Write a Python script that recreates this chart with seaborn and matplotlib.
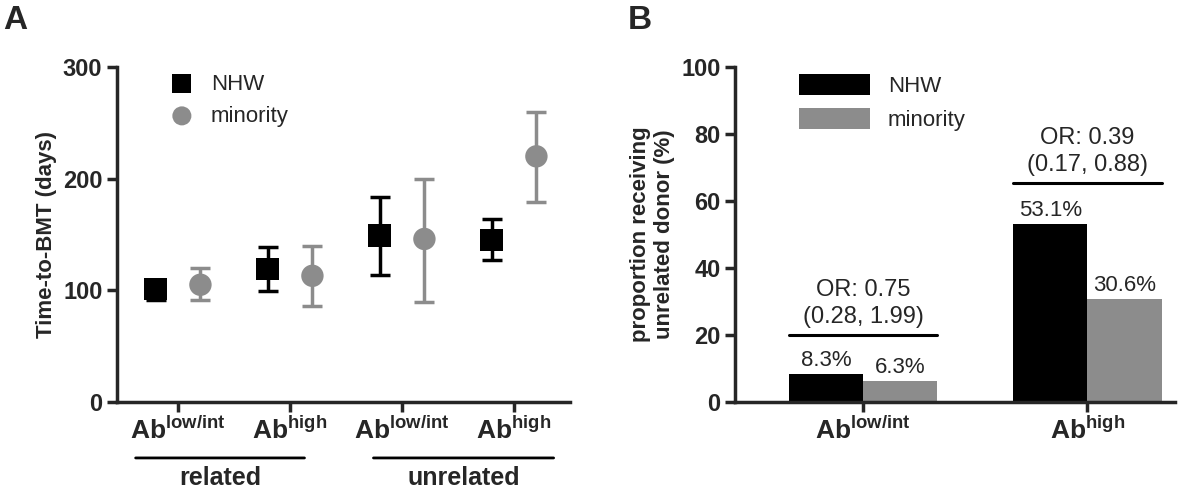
import numpy as np
import pandas as pd
import seaborn as sns
import matplotlib.pyplot as plt

sns.set_style('ticks')
plt.rcParams['font.family'] = ['Liberation Sans', 'DejaVu Sans']
plt.rcParams['mathtext.fontset'] = 'custom'
plt.rcParams['mathtext.bf'] = 'Liberation Sans:bold'
plt.rcParams['mathtext.rm'] = 'Liberation Sans'

groups = ['related low', 'related high', 'unrelated low', 'unrelated high']
tick_labels = [r'$\mathbf{Ab^{low/int}}$', r'$\mathbf{Ab^{high}}$'] * 2
nhw_mean = [101, 119, 149, 145]
nhw_lo = [91, 99, 114, 127]
nhw_hi = [108, 139, 184, 164]
min_mean = [105, 113, 146, 220]
min_lo = [91, 86, 90, 179]
min_hi = [120, 140, 200, 260]

b_cats = ['low', 'high']
b_labels = [r'$\mathbf{Ab^{low/int}}$', r'$\mathbf{Ab^{high}}$']
b_nhw = [8.3, 53.1]
b_min = [6.3, 30.6]
or_text = ['OR: 0.75\n(0.28, 1.99)', 'OR: 0.39\n(0.17, 0.88)']
or_y = [20, 65.5]

grey = '#8c8c8c'
fig = plt.figure(figsize=(12, 4.92), dpi=100)
axA = fig.add_axes([117/1200, 1-402/492, 453/1200, 335/492])
axB = fig.add_axes([735/1200, 1-402/492, 440/1200, 335/492])

# Panel A
x = np.arange(len(groups))
d = 0.2
for xs, m, lo, hi, c, mk, lab in [(x - d, nhw_mean, nhw_lo, nhw_hi, 'black', 's', 'NHW'),
                                   (x + d, min_mean, min_lo, min_hi, grey, 'o', 'minority')]:
    m = np.array(m)
    axA.errorbar(xs, m, yerr=[m - np.array(lo), np.array(hi) - m], fmt='none',
                 ecolor=c, elinewidth=2.5, capsize=7, capthick=2.5)
    sns.scatterplot(x=xs, y=m, ax=axA, color=c, marker=mk, s=260, edgecolor='none',
                    label=lab, zorder=3)
axA.set_xlim(-0.545, 3.5)
axA.set_ylim(0, 300)
axA.set_yticks([0, 100, 200, 300])
axA.set_xticks(x)
axA.set_ylabel('Time-to-BMT (days)', fontsize=16, fontweight='bold')
axA.legend(loc='upper left', bbox_to_anchor=(0.05, 1.04), frameon=False, fontsize=16,
           handletextpad=0.3, markerscale=0.85)

# group brackets under A
for xa, xb, t in [(0.035, 0.42, 'related'), (0.56, 0.97, 'unrelated')]:
    axA.annotate('', xy=(xa, -0.167), xytext=(xb, -0.167), xycoords='axes fraction',
                 arrowprops=dict(arrowstyle='-', lw=2, color='black'))
    axA.text((xa + xb) / 2, -0.19, t, transform=axA.transAxes, ha='center', va='top',
             fontsize=18, fontweight='bold')

# Panel B
df = pd.DataFrame({'cat': b_cats * 2, 'val': b_nhw + b_min,
                   'grp': ['NHW'] * 2 + ['minority'] * 2})
sns.barplot(data=df, x='cat', y='val', hue='grp', palette=['black', grey], width=0.66,
            ax=axB, saturation=1, edgecolor='none')
axB.set_xlim(-0.57, 1.39)
axB.set_ylim(0, 100)
axB.set_yticks(range(0, 101, 20))
axB.set_ylabel('proportion receiving\nunrelated donor (%)', fontsize=16, fontweight='bold')
axB.legend(loc='upper left', bbox_to_anchor=(0.1, 1.04), frameon=False, fontsize=16,
           handlelength=3.2, handleheight=1.1)
for i in range(2):
    axB.text(i - 0.165, b_nhw[i] + 1, f'{b_nhw[i]}%', ha='center', va='bottom', fontsize=16)
    axB.text(i + 0.165, b_min[i] + 1, f'{b_min[i]}%', ha='center', va='bottom', fontsize=16)
    axB.plot([i - 0.33, i + 0.33], [or_y[i], or_y[i]], color='black', lw=2.2)
    axB.text(i, or_y[i] + 2, or_text[i], ha='center', va='bottom', fontsize=17, linespacing=1.3)

for ax in (axA, axB):
    sns.despine(ax=ax)
    for s in ('left', 'bottom'):
        ax.spines[s].set_linewidth(2.5)
    ax.tick_params(width=2.5, length=7, labelsize=17)
    for t in ax.get_yticklabels():
        t.set_fontweight('bold')
    ax.set_xlabel('')
axA.set_xticklabels(tick_labels, fontsize=19)
axB.set_xticklabels(b_labels, fontsize=19)

fig.text(0.003, 0.99, 'A', fontsize=24, fontweight='bold', va='top')
fig.text(0.523, 0.99, 'B', fontsize=24, fontweight='bold', va='top')
fig.savefig('out.png', dpi=100)
